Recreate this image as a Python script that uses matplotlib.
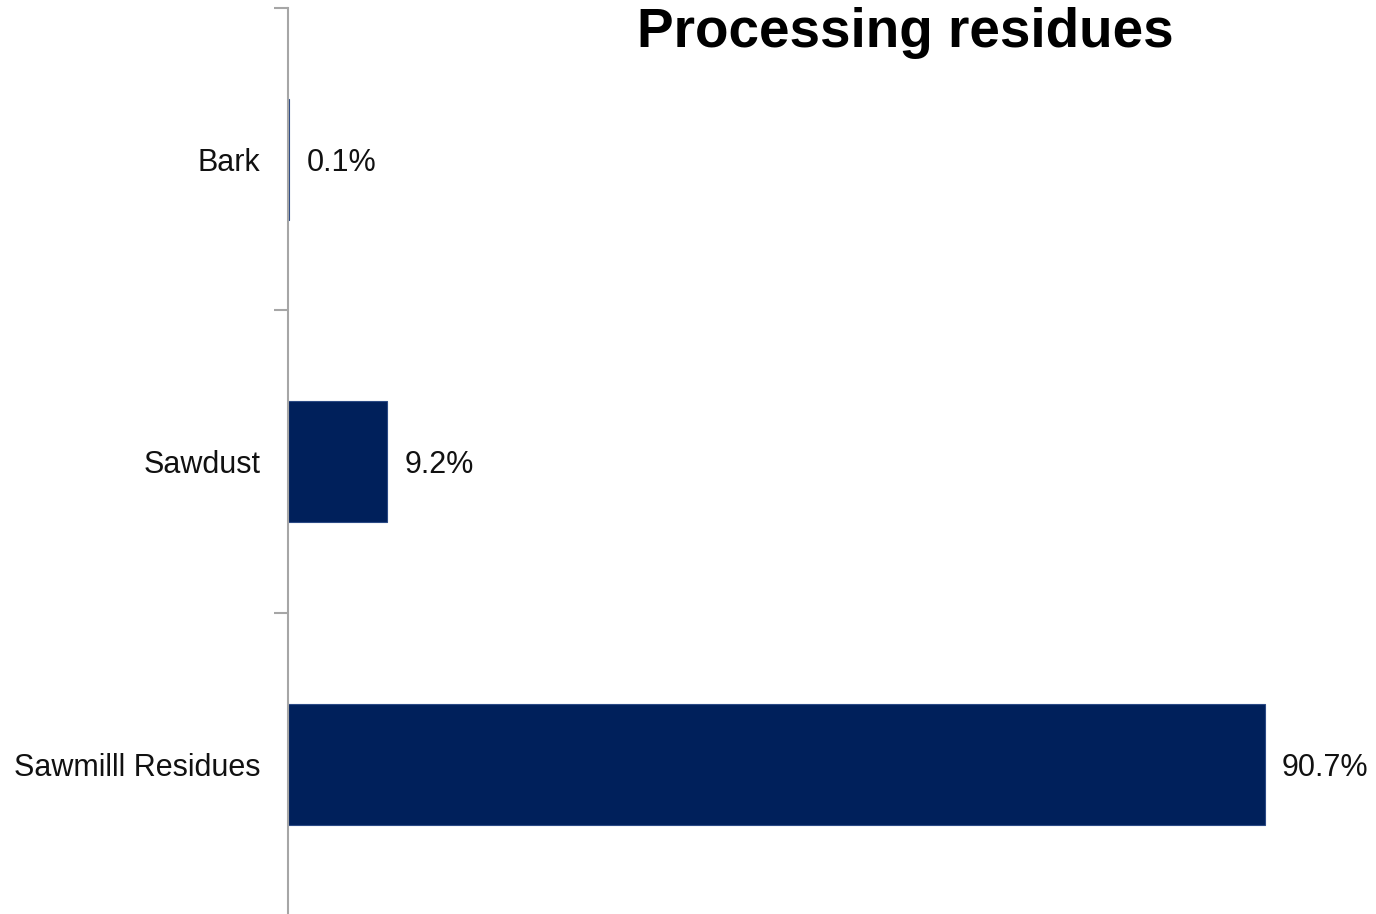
import numpy as np
import matplotlib.pyplot as plt

plt.rcParams['font.family'] = ['Liberation Sans', 'DejaVu Sans']

# Residue shares (%)
categories = ['Bark', 'Sawdust', 'Sawmilll Residues']
shares = [0.1, 9.2, 90.7]
labels = ['0.1%', '9.2%', '90.7%']

bar_color = '#00205b'
spine_color = '#a6a6a6'

fig = plt.figure(figsize=(13.76, 9.14), dpi=100)
ax = fig.add_axes([0.2093, -0.0015, 0.7827, 0.9927])

y = np.arange(len(categories))
ax.barh(y, shares, height=0.4, color=bar_color, edgecolor='#2b4a85', linewidth=0.8)

ax.set_xlim(0, 100)
ax.set_ylim(len(categories) - 0.5, -0.5)

# category boundaries carry the tick marks, labels sit between them
ax.set_yticks(np.arange(len(categories)) - 0.5)
ax.set_yticklabels([])
ax.set_yticks(y, minor=True)
ax.set_yticklabels(categories, minor=True, fontsize=22, color='#111111')
ax.tick_params(axis='y', which='major', length=10, width=1.5, color=spine_color, direction='out')
ax.tick_params(axis='y', which='minor', length=0, pad=20)
ax.set_xticks([])

for s in ['top', 'right', 'bottom']:
    ax.spines[s].set_visible(False)
ax.spines['left'].set_color(spine_color)
ax.spines['left'].set_linewidth(1.5)

for yi, v, lab in zip(y, shares, labels):
    ax.text(v + 1.6, yi, lab, va='center_baseline', ha='left', fontsize=22, color='#111111')

fig.text(0.658, 0.964, 'Processing residues', ha='center', va='center',
         fontsize=39.5, fontweight='bold', color='black')

fig.savefig('out.png', dpi=100)
plt.close()
